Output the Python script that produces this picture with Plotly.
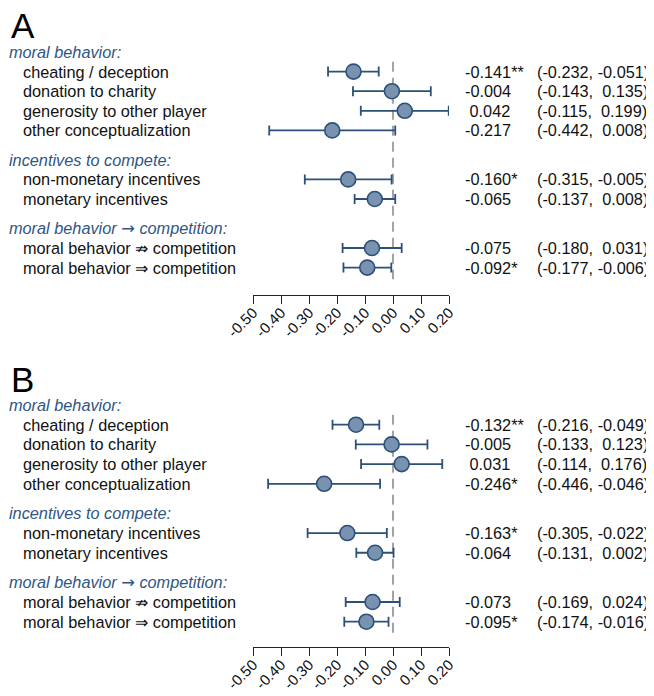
import plotly.graph_objects as go

W, H = 654, 696
OFF = 8  # page body offset

ARROW = '<span style="font-family:DejaVu Sans">\u2192</span>'
groups = ["moral behavior:", "incentives to compete:", "moral behavior " + ARROW + " competition:"]
items = [
    ["cheating / deception", "donation to charity", "generosity to other player", "other conceptualization"],
    ["non-monetary incentives", "monetary incentives"],
    ["moral behavior \u21cf competition", "moral behavior \u21d2 competition"],
]

# Panel A
est_A = [-0.141, -0.004, 0.042, -0.217, -0.160, -0.065, -0.075, -0.092]
lo_A = [-0.232, -0.143, -0.115, -0.442, -0.315, -0.137, -0.180, -0.177]
hi_A = [-0.051, 0.135, 0.199, 0.008, -0.005, 0.008, 0.031, -0.006]
sig_A = ["**", "", "", "", "*", "", "", "*"]

# Panel B
est_B = [-0.132, -0.005, 0.031, -0.246, -0.163, -0.064, -0.073, -0.095]
lo_B = [-0.216, -0.133, -0.114, -0.446, -0.305, -0.131, -0.169, -0.174]
hi_B = [-0.049, 0.123, 0.176, -0.046, -0.022, 0.002, 0.024, -0.016]
sig_B = ["**", "", "", "*", "*", "", "", "*"]

tick_vals = [-0.50, -0.40, -0.30, -0.20, -0.10, 0.00, 0.10, 0.20]
tick_text = ["-0.50", "-0.40", "-0.30", "-0.20", "-0.10", "0.00", "0.10", "0.20"]

panels = [
    dict(letter="A", est=est_A, lo=lo_A, hi=hi_A, sig=sig_A, top_px=52, step=19.6, axis_px=295, letter_px=25),
    dict(letter="B", est=est_B, lo=lo_B, hi=hi_B, sig=sig_B, top_px=405, step=19.7, axis_px=647, letter_px=379),
]

# positions (layout): headers and items
header_pos = []
item_pos = []
p = 0.0
for g, its in zip(groups, items):
    header_pos.append(p)
    for k in range(len(its)):
        item_pos.append(p + 1 + k)
    p = p + len(its) + 1.5

BLUE_TXT = "#2f5684"
LINE_C = "#2d5078"
FILL_C = "#7892b0"
FONT = "Liberation Sans, Arial, sans-serif"
FS = 16.3

def px_x(x):
    return (x - OFF) / W

def px_y(y):
    return 1 - (y - OFF) / H

fig = go.Figure()
annotations = []
layout = {}

xdom = [px_x(253), px_x(449)]

def fmt(v):
    s = "%.3f" % v
    return s if v < 0 else "\u00a0" + s

for i, pn in enumerate(panels):
    sfx = "" if i == 0 else str(i + 1)
    xa = "x" + sfx
    ya = "y" + sfx
    top_unit = -1.0
    bot_unit = (pn["axis_px"] - pn["top_px"]) / pn["step"]
    top_px = pn["top_px"] + top_unit * pn["step"]
    ydom = [px_y(pn["axis_px"]), px_y(top_px)]

    # dashed zero line
    fig.add_trace(go.Scatter(
        x=[0, 0], y=[0.5, item_pos[-1] + 0.6], mode="lines",
        line=dict(color="#9a9a9a", width=1.8, dash="10px,6px"),
        xaxis=xa, yaxis=ya, showlegend=False, hoverinfo="skip"))

    est = pn["est"]
    fig.add_trace(go.Scatter(
        x=est, y=item_pos, mode="markers",
        marker=dict(size=15, color=FILL_C, line=dict(color=LINE_C, width=1.6)),
        error_x=dict(type="data", symmetric=False,
                     array=[h - e for h, e in zip(pn["hi"], est)],
                     arrayminus=[e - l for e, l in zip(est, pn["lo"])],
                     color=LINE_C, thickness=1.8, width=5),
        xaxis=xa, yaxis=ya, showlegend=False))

    layout["xaxis" + sfx] = dict(
        domain=xdom, range=[-0.5, 0.2], anchor=ya, automargin=False,
        showline=True, linecolor="#222", linewidth=1.3,
        ticks="outside", ticklen=8, tickwidth=1.3, tickcolor="#222",
        tickvals=tick_vals, ticktext=tick_text, tickangle=-45,
        ticklabelstandoff=-6,
        tickfont=dict(size=15, color="#111", family=FONT),
        showgrid=False, zeroline=False, fixedrange=True)
    layout["yaxis" + sfx] = dict(
        domain=ydom, range=[bot_unit, top_unit], anchor=xa, automargin=False,
        visible=False, fixedrange=True)

    # panel letter
    annotations.append(dict(
        text=pn["letter"], xref="paper", yref="paper",
        x=px_x(10), y=px_y(pn["letter_px"]), xanchor="left", yanchor="middle",
        showarrow=False, borderpad=0, font=dict(size=35, color="#000", family=FONT)))

    for g, hp in zip(groups, header_pos):
        annotations.append(dict(
            text="<i>" + g + "</i>", xref="paper", yref=ya, x=px_x(7), y=hp,
            xanchor="left", yanchor="middle", showarrow=False,
            font=dict(size=FS, color=BLUE_TXT, family=FONT)))
    flat = [it for its in items for it in its]
    for lab, ip in zip(flat, item_pos):
        annotations.append(dict(
            text=lab, xref="paper", yref=ya, x=px_x(21), y=ip,
            xanchor="left", yanchor="middle", showarrow=False,
            font=dict(size=FS, color="#111", family=FONT)))
    for e, l, h, s, ip in zip(est, pn["lo"], pn["hi"], pn["sig"], item_pos):
        annotations.append(dict(
            text=fmt(e) + s, xref="paper", yref=ya, x=px_x(463), y=ip,
            xanchor="left", yanchor="middle", showarrow=False,
            font=dict(size=FS, color="#111", family=FONT)))
        annotations.append(dict(
            text="(" + "%.3f" % l + ", " + ("\u00a0" if h >= 0 else "") + "%.3f" % h + ")",
            xref="paper", yref=ya, x=px_x(535), y=ip,
            xanchor="left", yanchor="middle", showarrow=False,
            font=dict(size=FS, color="#111", family=FONT)))

fig.update_layout(
    width=W, height=H, margin=dict(l=0, r=0, t=0, b=0, pad=0, autoexpand=False),
    paper_bgcolor="white", plot_bgcolor="white",
    annotations=annotations, font=dict(family=FONT), **layout)

fig.write_html("out.html")
